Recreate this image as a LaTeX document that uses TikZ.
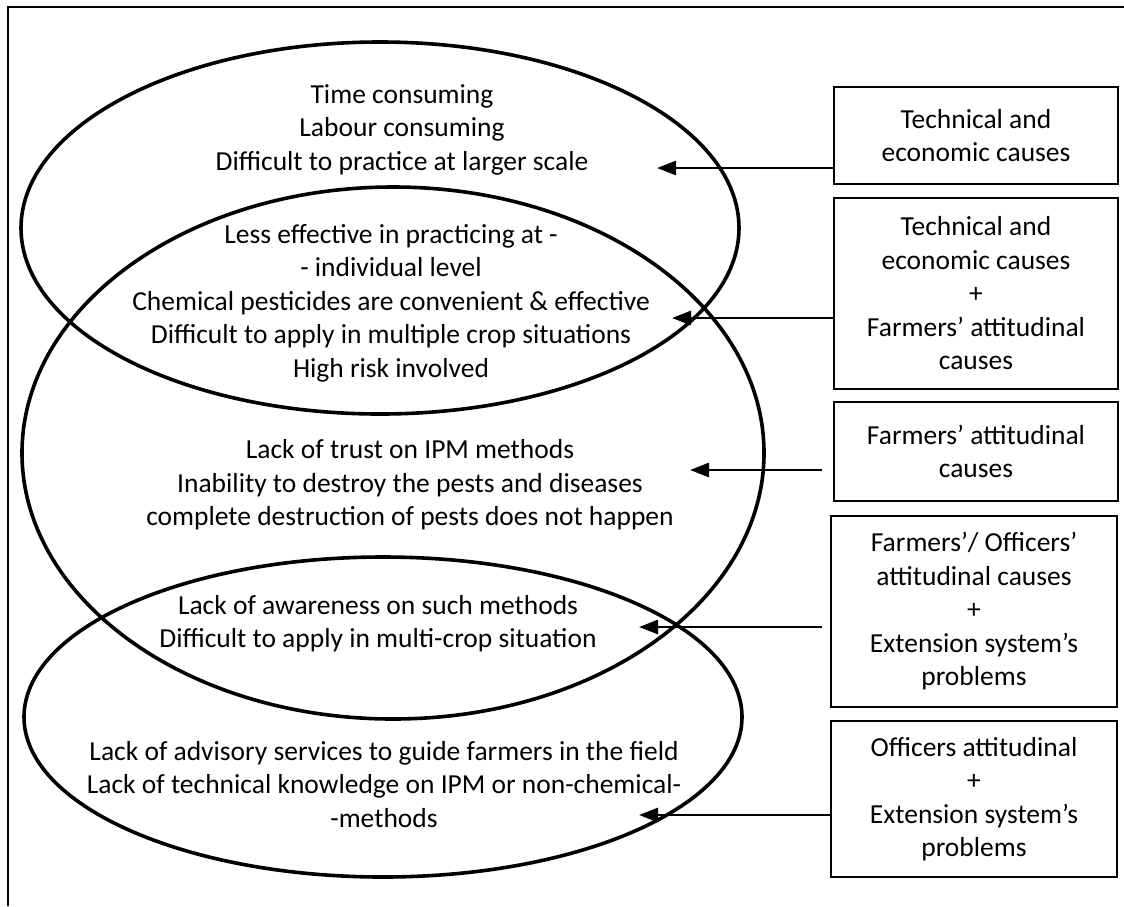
\documentclass[tikz,border=0pt]{standalone}
\usepackage{fontspec}
\setmainfont{Carlito}
\usetikzlibrary{arrows.meta,shapes.geometric}
\begin{document}
\begin{tikzpicture}[x=1pt,y=-1pt,
  ell/.style={draw,ellipse,line width=3.6pt,inner sep=0pt},
  txt/.style={align=center,inner sep=0pt,font=\fontsize{27.5}{33.5}\selectfont},
  cause/.style={draw,line width=1.8pt,align=center,inner sep=0pt,font=\fontsize{27.5}{33.5}\selectfont},
  arr/.style={line width=2.8pt,-{Triangle[length=19pt,width=14pt]}}]
\useasboundingbox (0,0) rectangle (1124,906);
\draw[line width=1.4pt] (8,906) -- (8,7) -- (1124,7);
% ellipses
\node[ell,minimum width=718pt,minimum height=372pt] (e1) at (380,228) {};
\node[ell,minimum width=742pt,minimum height=532pt] (e2) at (393,453) {};
\node[ell,minimum width=718pt,minimum height=320pt] (e3) at (383,717) {};
% texts
\node[txt] (t1) at (402,129.5) {Time consuming\\Labour consuming\\Difficult to practice at larger scale};
\node[txt] (t2) at (391,303) {Less effective in practicing at -\\- individual level\\Chemical pesticides are convenient \& effective\\Difficult to apply in multiple crop situations\\High risk involved};
\node[txt] (t3) at (410,485) {Lack of trust on IPM methods\\Inability to destroy the pests and diseases\\complete destruction of pests does not happen};
\node[txt] (t4) at (378,623.5) {Lack of awareness on such methods\\Difficult to apply in multi-crop situation};
\node[txt] (t5) at (384,784.5) {Lack of advisory services to guide farmers in the field\\Lack of technical knowledge on IPM or non-chemical-\\-methods};
% boxes
\node[cause,minimum width=284pt,minimum height=97pt] (b1) at (976,135.5) {Technical and\\economic causes};
\node[cause,minimum width=284pt,minimum height=191pt] (b2) at (976,293.5) {Technical and\\economic causes\\+\\Farmers’ attitudinal\\causes};
\node[cause,minimum width=284pt,minimum height=99pt] (b3) at (976,451.5) {Farmers’ attitudinal\\causes};
\node[cause,minimum width=286pt,minimum height=191pt] (b4) at (974,611.5) {Farmers’/ Officers’\\attitudinal causes\\+\\Extension system’s\\problems};
\node[cause,minimum width=286pt,minimum height=156pt] (b5) at (974,799) {Officers attitudinal\\+\\Extension system’s\\problems};
% arrow tips
\coordinate (p1) at (657,168);
\coordinate (p2) at (672,318);
\coordinate (p3) at (690,470);
\coordinate (p4) at (639,627);
\coordinate (p5) at (639,815);
\draw[arr] (b1.west |- p1) -- (p1);
\draw[arr] (b2.west |- p2) -- (p2);
\draw[arr,shorten <=11pt] (b3.west |- p3) -- (p3);
\draw[arr,shorten <=8pt] (b4.west |- p4) -- (p4);
\draw[arr] (b5.west |- p5) -- (p5);
\end{tikzpicture}
\end{document}
